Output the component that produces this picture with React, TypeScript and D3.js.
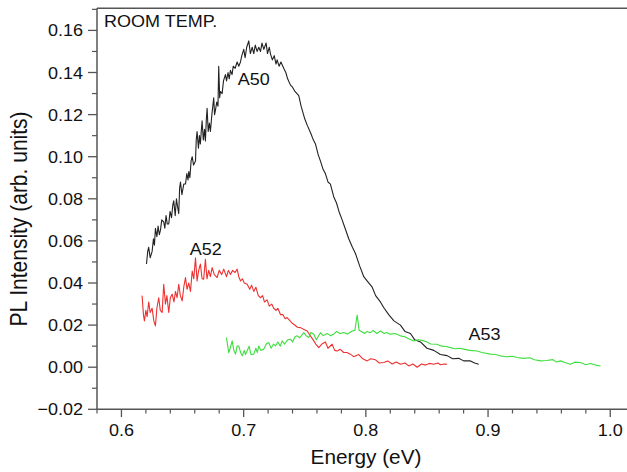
import React from "react";
import * as d3 from "d3";

const a50E = [0.6205,0.6215,0.6223,0.6235,0.6251,0.6262,0.627,0.6278,0.629,0.63,0.631,0.6319,0.633,0.6346,0.6355,0.6365,0.6375,0.6387,0.6398,0.641,0.642,0.6428,0.644,0.645,0.646,0.6469,0.6476,0.6483,0.6495,0.651,0.6524,0.6535,0.6545,0.6551,0.656,0.657,0.6579,0.659,0.6606,0.6612,0.6619,0.663,0.6638,0.6646,0.6653,0.666,0.667,0.668,0.6687,0.6695,0.6701,0.671,0.672,0.6728,0.674,0.6755,0.6762,0.6769,0.678,0.679,0.6796,0.6804,0.681,0.6824,0.6835,0.6851,0.686,0.6872,0.6882,0.6892,0.6905,0.6915,0.693,0.6947,0.696,0.6974,0.6985,0.7001,0.7012,0.7025,0.7042,0.7055,0.707,0.7083,0.7095,0.711,0.7124,0.7138,0.715,0.7165,0.7184,0.7195,0.721,0.7219,0.7235,0.725,0.7265,0.7274,0.729,0.7305,0.7328,0.7345,0.736,0.7383,0.74,0.742,0.7451,0.747,0.75,0.752,0.755,0.757,0.7588,0.761,0.7628,0.765,0.7669,0.769,0.771,0.7737,0.776,0.778,0.7806,0.783,0.786,0.789,0.7915,0.795,0.7983,0.801,0.8052,0.808,0.8119,0.815,0.8187,0.823,0.8283,0.832,0.8365,0.84,0.8447,0.85,0.8556,0.861,0.8665,0.871,0.876,0.88,0.8856,0.889,0.8924];
const a50I = [0.049,0.055,0.057,0.052,0.055,0.061,0.058,0.066,0.062,0.067,0.063,0.065,0.07,0.069,0.066,0.072,0.068,0.068,0.074,0.071,0.077,0.079,0.072,0.08,0.076,0.073,0.085,0.088,0.082,0.087,0.087,0.092,0.089,0.093,0.09,0.098,0.1,0.096,0.098,0.108,0.112,0.104,0.11,0.106,0.112,0.117,0.108,0.113,0.1075,0.118,0.123,0.112,0.116,0.112,0.12,0.128,0.12,0.122,0.126,0.124,0.143,0.128,0.131,0.13,0.136,0.139,0.136,0.14,0.137,0.141,0.139,0.143,0.142,0.145,0.143,0.145,0.148,0.151,0.147,0.152,0.155,0.149,0.152,0.149,0.153,0.15,0.152,0.15,0.154,0.151,0.154,0.149,0.152,0.149,0.146,0.148,0.144,0.146,0.143,0.145,0.142,0.14,0.137,0.134,0.133,0.131,0.129,0.124,0.118,0.115,0.111,0.108,0.106,0.101,0.098,0.094,0.092,0.088,0.087,0.081,0.078,0.074,0.07,0.066,0.061,0.057,0.054,0.048,0.043,0.041,0.038,0.034,0.031,0.028,0.025,0.022,0.02,0.017,0.016,0.013,0.012,0.009,0.008,0.006,0.0055,0.004,0.0042,0.003,0.003,0.002,0.0014];

const a52E = [0.6169,0.618,0.6188,0.62,0.621,0.6223,0.6235,0.6251,0.6265,0.6278,0.629,0.6305,0.6318,0.6333,0.6346,0.636,0.6372,0.6387,0.64,0.6415,0.643,0.6442,0.6455,0.6469,0.6482,0.6497,0.651,0.6524,0.6537,0.6551,0.6565,0.6579,0.6592,0.6606,0.6619,0.6632,0.6646,0.666,0.6673,0.6687,0.67,0.6714,0.6728,0.6742,0.676,0.6783,0.68,0.682,0.6837,0.686,0.6875,0.6892,0.691,0.693,0.6947,0.696,0.6974,0.699,0.7005,0.7029,0.705,0.7065,0.7083,0.71,0.712,0.7137,0.7155,0.717,0.7192,0.721,0.723,0.7246,0.7265,0.728,0.7301,0.732,0.734,0.7356,0.738,0.7395,0.741,0.744,0.7465,0.749,0.752,0.7545,0.7574,0.759,0.7615,0.764,0.7669,0.769,0.7724,0.7745,0.7765,0.779,0.7819,0.7845,0.7874,0.79,0.7942,0.7975,0.8011,0.804,0.8079,0.811,0.8146,0.818,0.8215,0.825,0.8283,0.832,0.8351,0.8385,0.842,0.8455,0.8488,0.852,0.8556,0.859,0.861,0.864,0.8665];
const a52I = [0.034,0.025,0.022,0.027,0.024,0.031,0.026,0.028,0.022,0.0196,0.028,0.033,0.027,0.026,0.0394,0.03,0.034,0.026,0.033,0.0347,0.031,0.036,0.033,0.0394,0.034,0.0315,0.038,0.0426,0.037,0.04,0.036,0.0457,0.042,0.052,0.041,0.046,0.049,0.042,0.0418,0.0513,0.042,0.046,0.043,0.0473,0.044,0.0426,0.046,0.044,0.0466,0.043,0.046,0.044,0.046,0.045,0.0466,0.043,0.041,0.042,0.04,0.0394,0.037,0.039,0.036,0.038,0.034,0.033,0.034,0.031,0.032,0.029,0.03,0.028,0.027,0.028,0.025,0.025,0.023,0.0236,0.022,0.021,0.0204,0.019,0.0188,0.018,0.0172,0.015,0.0125,0.011,0.0093,0.011,0.012,0.009,0.0109,0.008,0.0077,0.0085,0.007,0.007,0.0062,0.005,0.006,0.004,0.003,0.004,0.0035,0.002,0.0022,0.003,0.0015,0.0025,0.0014,0.002,0.0006,0.0015,0.0,0.0015,0.001,0.0018,0.0014,0.002,0.0012,0.0015,0.0014];

const a53E = [0.6859,0.687,0.6878,0.689,0.6906,0.692,0.6933,0.6947,0.696,0.6975,0.6988,0.7005,0.7015,0.7029,0.7045,0.706,0.7083,0.71,0.7112,0.7124,0.714,0.7164,0.7185,0.7205,0.7225,0.7245,0.726,0.728,0.73,0.7315,0.7335,0.736,0.7383,0.74,0.742,0.7438,0.746,0.7492,0.751,0.7533,0.755,0.7574,0.7595,0.7628,0.765,0.7683,0.771,0.7737,0.776,0.779,0.7819,0.785,0.7888,0.791,0.7929,0.7945,0.7956,0.799,0.801,0.8038,0.806,0.809,0.8119,0.815,0.817,0.8201,0.824,0.8283,0.832,0.835,0.8392,0.843,0.8474,0.85,0.853,0.8583,0.862,0.866,0.8692,0.873,0.877,0.8801,0.885,0.8911,0.895,0.902,0.906,0.9101,0.915,0.92,0.9238,0.929,0.934,0.938,0.9429,0.948,0.953,0.956,0.9592,0.963,0.9674,0.971,0.9756,0.98,0.9838,0.988,0.992];
const a53I = [0.0141,0.01,0.0069,0.009,0.0125,0.008,0.0062,0.01,0.0101,0.007,0.0054,0.008,0.006,0.0078,0.01,0.006,0.0062,0.009,0.007,0.0101,0.008,0.0085,0.011,0.0117,0.009,0.011,0.0101,0.012,0.01,0.0125,0.011,0.013,0.0133,0.012,0.0145,0.0149,0.014,0.0164,0.015,0.0141,0.0165,0.0157,0.013,0.0164,0.015,0.016,0.015,0.0157,0.017,0.016,0.0165,0.0158,0.0172,0.0175,0.0248,0.0175,0.0172,0.016,0.017,0.0164,0.0175,0.016,0.0172,0.016,0.0165,0.0157,0.016,0.0149,0.0145,0.0135,0.0125,0.013,0.0125,0.012,0.011,0.0109,0.01,0.0098,0.0093,0.0088,0.009,0.0086,0.008,0.0077,0.007,0.0062,0.006,0.0054,0.005,0.0052,0.0046,0.0042,0.0045,0.0035,0.003,0.0032,0.0036,0.0025,0.003,0.0022,0.0014,0.0024,0.0022,0.0012,0.0018,0.001,0.0006];

const xMajor = [0.6, 0.7, 0.8, 0.9, 1.0];
const yMajor = [-0.02, 0.0, 0.02, 0.04, 0.06, 0.08, 0.1, 0.12, 0.14, 0.16];

const seriesNames = ["A50", "A52", "A53"];
const labelPos = [[0.6951, 0.1341], [0.6558, 0.0533], [0.8839, 0.0128]];

const W = 627, H = 472;

export default function App() {
  const x = d3.scaleLinear().domain([0.58, 1.02]).range([97, 634.7]);
  const y = d3.scaleLinear().domain([-0.02, 0.1705]).range([409.3, 8.3]);
  const line = d3.line<[number, number]>().x(d => x(d[0])).y(d => y(d[1]));
  const zip = (a: number[], b: number[]) => a.map((v, i) => [v, b[i]] as [number, number]);
  const series = [
    { d: zip(a50E, a50I), c: "#222" },
    { d: zip(a52E, a52I), c: "#ee3030" },
    { d: zip(a53E, a53I), c: "#3ede3e" },
  ];
  const xMinor = d3.range(0.58, 1.0201, 0.02).map(v => +v.toFixed(3)).filter(v => !xMajor.some(m => Math.abs(m - v) < 1e-6));
  const yMinor = d3.range(-0.02, 0.1701, 0.01).map(v => +v.toFixed(3)).filter(v => !yMajor.some(m => Math.abs(m - v) < 1e-6));
  const axisC = "#555";
  const font = "'Liberation Sans', Arial, Helvetica, sans-serif";
  const T = (props: { x: number; y: number; s: number; sx: number; anchor?: string; children: any; rot?: boolean }) => (
    <g transform={`translate(${props.x},${props.y}) scale(${props.sx},1)${props.rot ? " rotate(-90)" : ""}`}>
      <text fontSize={props.s} textAnchor={props.anchor || "start"} fill="#111" fontFamily={font}>{props.children}</text>
    </g>
  );
  return (
    <svg width={W} height={H} style={{ position: "absolute", left: 0, top: 0, background: "#fff" }}>
      <rect width={W} height={H} fill="#fff" />
      {series.map((s, i) => (
        <path key={i} d={line(s.d) || ""} fill="none" stroke={s.c} strokeWidth={1.1} strokeLinejoin="round" />
      ))}
      <line x1={97} x2={W} y1={8.3} y2={8.3} stroke={axisC} strokeWidth={1.5} />
      <line x1={97} x2={97} y1={8.3} y2={409.3} stroke={axisC} strokeWidth={1.5} />
      <line x1={97} x2={W} y1={409.3} y2={409.3} stroke={axisC} strokeWidth={1.5} />
      {xMajor.map(v => <line key={"xm" + v} x1={x(v)} x2={x(v)} y1={409.3} y2={417} stroke={axisC} strokeWidth={1.3} />)}
      {xMinor.map(v => <line key={"xn" + v} x1={x(v)} x2={x(v)} y1={409.3} y2={413.5} stroke={axisC} strokeWidth={1.2} />)}
      {yMajor.map(v => <line key={"ym" + v} x1={88} x2={97} y1={y(v)} y2={y(v)} stroke={axisC} strokeWidth={1.3} />)}
      {yMinor.map(v => <line key={"yn" + v} x1={92} x2={97} y1={y(v)} y2={y(v)} stroke={axisC} strokeWidth={1.2} />)}
      {xMajor.map(v => <T key={"xl" + v} x={x(v)} y={436} s={17} sx={1.06} anchor="middle">{v.toFixed(1)}</T>)}
      {yMajor.map(v => <T key={"yl" + v} x={83} y={y(v) + 6} s={17} sx={1.06} anchor="end">{v < 0 ? "\u2212" + Math.abs(v).toFixed(2) : v.toFixed(2)}</T>)}
      <T x={366} y={464} s={20} sx={1.04} anchor="middle">Energy (eV)</T>
      <T x={27} y={219} s={21} sx={1.16} anchor="middle" rot>PL Intensity (arb. units)</T>
      <T x={104} y={27} s={17} sx={1.06}>ROOM TEMP.</T>
      {seriesNames.map((n, i) => <T key={n} x={x(labelPos[i][0])} y={y(labelPos[i][1])} s={17} sx={1.06}>{n}</T>)}
    </svg>
  );
}
